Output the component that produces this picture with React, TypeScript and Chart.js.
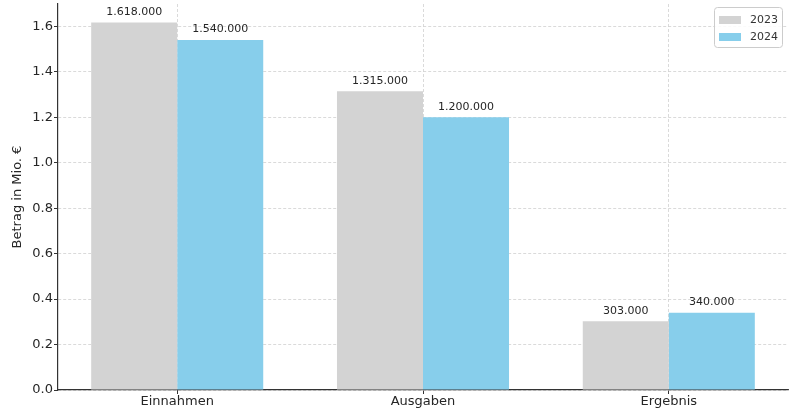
import React, { useEffect, useRef } from "react";
import { Chart, registerables } from "chart.js";

Chart.register(...registerables);

const categories = ["Einnahmen", "Ausgaben", "Ergebnis"];
const seriesNames = ["2023", "2024"];
const values2023 = [1618000, 1315000, 303000];
const values2024 = [1540000, 1200000, 340000];
const seriesColors = ["#d3d3d3", "#87ceeb"];
const yTickValues = [0, 0.2, 0.4, 0.6, 0.8, 1.0, 1.2, 1.4, 1.6];
const yTitle = "Betrag in Mio. €";

const FONT = "'DejaVu Sans', sans-serif";
const TEXT = "#262626";

function fmt(v: number): string {
  return String(v).replace(/\B(?=(\d{3})+(?!\d))/g, ".");
}

const valueLabels = {
  id: "valueLabels",
  afterDatasetsDraw(chart: any) {
    const { ctx } = chart;
    ctx.save();
    ctx.font = `11px ${FONT}`;
    ctx.fillStyle = TEXT;
    ctx.textAlign = "center";
    ctx.textBaseline = "bottom";
    chart.data.datasets.forEach((ds: any, di: number) => {
      const meta = chart.getDatasetMeta(di);
      meta.data.forEach((el: any, i: number) => {
        ctx.fillText(fmt(ds.raw[i]), el.x, el.y - 5);
      });
    });
    ctx.restore();
  },
};

const boxLegend = {
  id: "boxLegend",
  afterDraw(chart: any) {
    const { ctx, chartArea } = chart;
    const w = 68;
    const h = 40;
    const x = chartArea.right - 6 - w;
    const y = chartArea.top + 3;
    ctx.save();
    ctx.beginPath();
    ctx.roundRect(x + 0.5, y + 0.5, w, h, 3);
    ctx.fillStyle = "rgba(255,255,255,0.85)";
    ctx.fill();
    ctx.strokeStyle = "#cccccc";
    ctx.lineWidth = 1;
    ctx.stroke();
    ctx.font = `11px ${FONT}`;
    ctx.textBaseline = "middle";
    ctx.textAlign = "left";
    chart.data.datasets.forEach((ds: any, i: number) => {
      const sy = y + 9 + i * 17;
      ctx.fillStyle = ds.backgroundColor;
      ctx.fillRect(x + 5, sy, 22, 8);
      ctx.fillStyle = "#333333";
      ctx.fillText(ds.label, x + 36, sy + 4.5);
    });
    ctx.restore();
  },
};

const gridCommon = {
  display: true,
  drawOnChartArea: true,
  offset: false,
  color: "#d0d0d0",
  lineWidth: 0.8,
  drawTicks: true,
  tickLength: 4,
  tickColor: "#333333",
  tickBorderDash: [],
  tickWidth: 1,
};

const borderCommon = { display: true, color: "#333333", width: 1.2, dash: [3, 2] };

export default function App() {
  const canvasRef = useRef<HTMLCanvasElement | null>(null);

  useEffect(() => {
    if (!canvasRef.current) return;
    const allSeries = [values2023, values2024];
    const chart = new Chart(canvasRef.current, {
      type: "bar",
      data: {
        datasets: allSeries.map((vals, si) => ({
          label: seriesNames[si],
          raw: vals,
          data: vals.map((v, i) => ({ x: i, y: v / 1e6 })),
          backgroundColor: seriesColors[si],
          borderWidth: 0,
          categoryPercentage: 0.7,
          barPercentage: 1.0,
        })) as any,
      },
      options: {
        animation: false,
        responsive: true,
        maintainAspectRatio: false,
        layout: { padding: { left: 0, right: 12, top: 4, bottom: 0 } },
        plugins: {
          legend: { display: false },
          tooltip: { enabled: false },
        },
        scales: {
          x: {
            type: "linear",
            min: -0.485,
            max: 2.485,
            offset: false,
            afterBuildTicks: (scale: any) => {
              scale.ticks = categories.map((_, i) => ({ value: i }));
            },
            afterFit: (scale: any) => {
              scale.height = 21;
              scale.paddingLeft = 0;
              scale.paddingRight = 0;
            },
            ticks: {
              callback: (v: any) => categories[v as number] ?? "",
              font: { family: FONT, size: 13 },
              color: TEXT,
              padding: 0,
              maxRotation: 0,
              autoSkip: false,
            },
            grid: gridCommon as any,
            border: borderCommon as any,
          },
          y: {
            type: "linear",
            min: 0,
            max: 1.699,
            afterBuildTicks: (scale: any) => {
              scale.ticks = yTickValues.map((v) => ({ value: v }));
            },
            afterFit: (scale: any) => {
              scale.width = 58;
              scale.paddingTop = 0;
              scale.paddingBottom = 0;
            },
            ticks: {
              callback: (v: any) => Number(v).toFixed(1),
              font: { family: FONT, size: 13 },
              color: TEXT,
              padding: 1,
            },
            grid: gridCommon as any,
            border: borderCommon as any,
            title: {
              display: true,
              text: yTitle,
              font: { family: FONT, size: 13 },
              color: TEXT,
              padding: { top: 10, bottom: 0 },
            },
          },
        },
      },
      plugins: [valueLabels, boxLegend],
    });
    return () => chart.destroy();
  }, []);

  return (
    <div style={{ position: "absolute", left: 0, top: 0, width: 800, height: 411 }}>
      <canvas ref={canvasRef} />
    </div>
  );
}
